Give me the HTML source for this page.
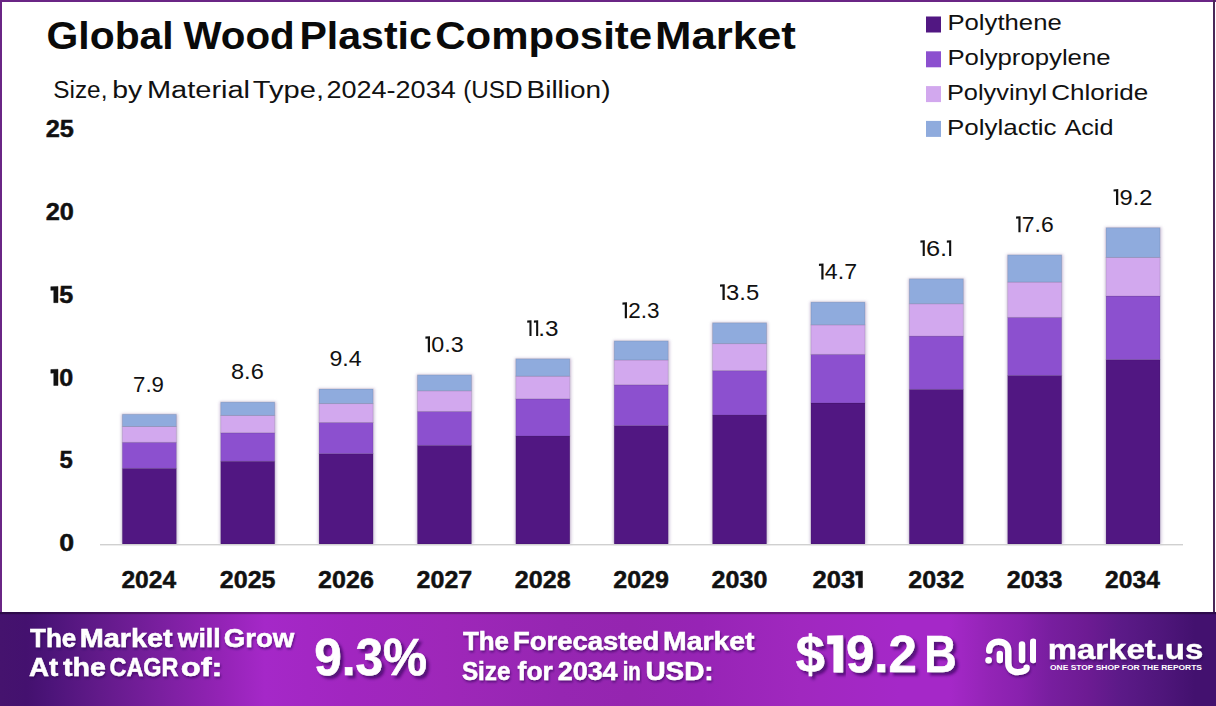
<!DOCTYPE html>
<html><head><meta charset="utf-8"><title>Global Wood Plastic Composite Market</title>
<style>
html,body{margin:0;padding:0;background:#fff;}
body{width:1216px;height:706px;overflow:hidden;position:relative;font-family:"Liberation Sans",sans-serif;}
svg{position:absolute;left:0;top:0;display:block;}
svg text{font-family:"Liberation Sans",sans-serif;}
</style></head><body>
<svg width="1216" height="706" viewBox="0 0 1216 706">
<defs>
<linearGradient id="bg" gradientUnits="userSpaceOnUse" x1="0" y1="0" x2="1216" y2="0">
<stop offset="0.0000" stop-color="#45136e"/>
<stop offset="0.0222" stop-color="#44116f"/>
<stop offset="0.0411" stop-color="#4c1479"/>
<stop offset="0.0822" stop-color="#621a8a"/>
<stop offset="0.1316" stop-color="#7a1f9f"/>
<stop offset="0.1809" stop-color="#9323b5"/>
<stop offset="0.2179" stop-color="#a528c8"/>
<stop offset="0.2878" stop-color="#a126c0"/>
<stop offset="0.3660" stop-color="#9e27b9"/>
<stop offset="0.4605" stop-color="#9626b2"/>
<stop offset="0.5181" stop-color="#9525b0"/>
<stop offset="0.5757" stop-color="#9724b5"/>
<stop offset="0.6579" stop-color="#a028bf"/>
<stop offset="0.7401" stop-color="#a528c8"/>
<stop offset="0.7812" stop-color="#a528c8"/>
<stop offset="0.8141" stop-color="#9324b6"/>
<stop offset="0.8388" stop-color="#8921ae"/>
<stop offset="0.8635" stop-color="#781e9f"/>
<stop offset="0.8939" stop-color="#6d1b93"/>
<stop offset="0.9211" stop-color="#5c1a88"/>
<stop offset="0.9556" stop-color="#4f167b"/>
<stop offset="0.9827" stop-color="#43116f"/>
<stop offset="1.0000" stop-color="#43116f"/>
</linearGradient>
<filter id="bs" x="-20%" y="-5%" width="140%" height="110%"><feGaussianBlur stdDeviation="1.6"/></filter>
<filter id="ts" x="-5%" y="-20%" width="110%" height="150%">
<feGaussianBlur in="SourceAlpha" stdDeviation="1.2"/>
<feOffset dx="1" dy="1.5" result="b"/>
<feFlood flood-color="#2a0650" flood-opacity="0.55"/>
<feComposite in2="b" operator="in"/>
<feMerge><feMergeNode/><feMergeNode in="SourceGraphic"/></feMerge>
</filter>
<filter id="ds" x="-10%" y="-20%" width="130%" height="160%">
<feGaussianBlur in="SourceAlpha" stdDeviation="1.5"/>
<feOffset dx="3" dy="3" result="b"/>
<feFlood flood-color="#3a0a60" flood-opacity="0.75"/>
<feComposite in2="b" operator="in"/>
<feMerge><feMergeNode/><feMergeNode in="SourceGraphic"/></feMerge>
</filter>
</defs>
<rect x="0" y="0" width="1216" height="706" fill="#fff"/>
<rect x="0" y="0" width="1216" height="2" fill="#6a2585"/>
<rect x="0" y="0" width="2" height="612" fill="#6a2585"/>
<rect x="1213" y="0" width="2" height="612" fill="#4a2858"/>
<rect x="121.35" y="413.80" width="56.5" height="130.20" fill="#b09cc4" opacity="0.6" filter="url(#bs)"/>
<rect x="122.35" y="468.38" width="54.0" height="75.62" fill="#511782" stroke="#000" stroke-opacity="0.1" stroke-width="1"/>
<rect x="122.35" y="442.32" width="54.0" height="26.07" fill="#8c50cf" stroke="#000" stroke-opacity="0.1" stroke-width="1"/>
<rect x="122.35" y="426.49" width="54.0" height="15.82" fill="#d2a8ee" stroke="#000" stroke-opacity="0.1" stroke-width="1"/>
<rect x="122.35" y="414.30" width="54.0" height="12.19" fill="#8fabdd" stroke="#000" stroke-opacity="0.1" stroke-width="1"/>
<rect x="219.72" y="401.60" width="56.5" height="142.40" fill="#b09cc4" opacity="0.6" filter="url(#bs)"/>
<rect x="220.72" y="461.27" width="54.0" height="82.73" fill="#511782" stroke="#000" stroke-opacity="0.1" stroke-width="1"/>
<rect x="220.72" y="432.75" width="54.0" height="28.52" fill="#8c50cf" stroke="#000" stroke-opacity="0.1" stroke-width="1"/>
<rect x="220.72" y="415.44" width="54.0" height="17.31" fill="#d2a8ee" stroke="#000" stroke-opacity="0.1" stroke-width="1"/>
<rect x="220.72" y="402.10" width="54.0" height="13.34" fill="#8fabdd" stroke="#000" stroke-opacity="0.1" stroke-width="1"/>
<rect x="318.09" y="388.50" width="56.5" height="155.50" fill="#b09cc4" opacity="0.6" filter="url(#bs)"/>
<rect x="319.09" y="453.63" width="54.0" height="90.36" fill="#511782" stroke="#000" stroke-opacity="0.1" stroke-width="1"/>
<rect x="319.09" y="422.48" width="54.0" height="31.16" fill="#8c50cf" stroke="#000" stroke-opacity="0.1" stroke-width="1"/>
<rect x="319.09" y="403.57" width="54.0" height="18.91" fill="#d2a8ee" stroke="#000" stroke-opacity="0.1" stroke-width="1"/>
<rect x="319.09" y="389.00" width="54.0" height="14.57" fill="#8fabdd" stroke="#000" stroke-opacity="0.1" stroke-width="1"/>
<rect x="416.46" y="374.40" width="56.5" height="169.60" fill="#b09cc4" opacity="0.6" filter="url(#bs)"/>
<rect x="417.46" y="445.41" width="54.0" height="98.59" fill="#511782" stroke="#000" stroke-opacity="0.1" stroke-width="1"/>
<rect x="417.46" y="411.43" width="54.0" height="33.99" fill="#8c50cf" stroke="#000" stroke-opacity="0.1" stroke-width="1"/>
<rect x="417.46" y="390.80" width="54.0" height="20.63" fill="#d2a8ee" stroke="#000" stroke-opacity="0.1" stroke-width="1"/>
<rect x="417.46" y="374.90" width="54.0" height="15.90" fill="#8fabdd" stroke="#000" stroke-opacity="0.1" stroke-width="1"/>
<rect x="514.83" y="358.30" width="56.5" height="185.70" fill="#b09cc4" opacity="0.6" filter="url(#bs)"/>
<rect x="515.83" y="436.03" width="54.0" height="107.97" fill="#511782" stroke="#000" stroke-opacity="0.1" stroke-width="1"/>
<rect x="515.83" y="398.80" width="54.0" height="37.23" fill="#8c50cf" stroke="#000" stroke-opacity="0.1" stroke-width="1"/>
<rect x="515.83" y="376.21" width="54.0" height="22.59" fill="#d2a8ee" stroke="#000" stroke-opacity="0.1" stroke-width="1"/>
<rect x="515.83" y="358.80" width="54.0" height="17.41" fill="#8fabdd" stroke="#000" stroke-opacity="0.1" stroke-width="1"/>
<rect x="613.20" y="340.40" width="56.5" height="203.60" fill="#b09cc4" opacity="0.6" filter="url(#bs)"/>
<rect x="614.20" y="425.59" width="54.0" height="118.41" fill="#511782" stroke="#000" stroke-opacity="0.1" stroke-width="1"/>
<rect x="614.20" y="384.77" width="54.0" height="40.82" fill="#8c50cf" stroke="#000" stroke-opacity="0.1" stroke-width="1"/>
<rect x="614.20" y="359.99" width="54.0" height="24.78" fill="#d2a8ee" stroke="#000" stroke-opacity="0.1" stroke-width="1"/>
<rect x="614.20" y="340.90" width="54.0" height="19.09" fill="#8fabdd" stroke="#000" stroke-opacity="0.1" stroke-width="1"/>
<rect x="711.57" y="322.30" width="56.5" height="221.70" fill="#b09cc4" opacity="0.6" filter="url(#bs)"/>
<rect x="712.57" y="415.04" width="54.0" height="128.96" fill="#511782" stroke="#000" stroke-opacity="0.1" stroke-width="1"/>
<rect x="712.57" y="370.58" width="54.0" height="44.46" fill="#8c50cf" stroke="#000" stroke-opacity="0.1" stroke-width="1"/>
<rect x="712.57" y="343.59" width="54.0" height="26.99" fill="#d2a8ee" stroke="#000" stroke-opacity="0.1" stroke-width="1"/>
<rect x="712.57" y="322.80" width="54.0" height="20.79" fill="#8fabdd" stroke="#000" stroke-opacity="0.1" stroke-width="1"/>
<rect x="809.94" y="301.60" width="56.5" height="242.40" fill="#b09cc4" opacity="0.6" filter="url(#bs)"/>
<rect x="810.94" y="402.97" width="54.0" height="141.03" fill="#511782" stroke="#000" stroke-opacity="0.1" stroke-width="1"/>
<rect x="810.94" y="354.35" width="54.0" height="48.62" fill="#8c50cf" stroke="#000" stroke-opacity="0.1" stroke-width="1"/>
<rect x="810.94" y="324.84" width="54.0" height="29.51" fill="#d2a8ee" stroke="#000" stroke-opacity="0.1" stroke-width="1"/>
<rect x="810.94" y="302.10" width="54.0" height="22.74" fill="#8fabdd" stroke="#000" stroke-opacity="0.1" stroke-width="1"/>
<rect x="908.31" y="278.30" width="56.5" height="265.70" fill="#b09cc4" opacity="0.6" filter="url(#bs)"/>
<rect x="909.31" y="389.39" width="54.0" height="154.61" fill="#511782" stroke="#000" stroke-opacity="0.1" stroke-width="1"/>
<rect x="909.31" y="336.08" width="54.0" height="53.31" fill="#8c50cf" stroke="#000" stroke-opacity="0.1" stroke-width="1"/>
<rect x="909.31" y="303.73" width="54.0" height="32.35" fill="#d2a8ee" stroke="#000" stroke-opacity="0.1" stroke-width="1"/>
<rect x="909.31" y="278.80" width="54.0" height="24.93" fill="#8fabdd" stroke="#000" stroke-opacity="0.1" stroke-width="1"/>
<rect x="1006.68" y="254.40" width="56.5" height="289.60" fill="#b09cc4" opacity="0.6" filter="url(#bs)"/>
<rect x="1007.68" y="375.45" width="54.0" height="168.55" fill="#511782" stroke="#000" stroke-opacity="0.1" stroke-width="1"/>
<rect x="1007.68" y="317.35" width="54.0" height="58.11" fill="#8c50cf" stroke="#000" stroke-opacity="0.1" stroke-width="1"/>
<rect x="1007.68" y="282.08" width="54.0" height="35.27" fill="#d2a8ee" stroke="#000" stroke-opacity="0.1" stroke-width="1"/>
<rect x="1007.68" y="254.90" width="54.0" height="27.18" fill="#8fabdd" stroke="#000" stroke-opacity="0.1" stroke-width="1"/>
<rect x="1105.05" y="227.20" width="56.5" height="316.80" fill="#b09cc4" opacity="0.6" filter="url(#bs)"/>
<rect x="1106.05" y="359.60" width="54.0" height="184.40" fill="#511782" stroke="#000" stroke-opacity="0.1" stroke-width="1"/>
<rect x="1106.05" y="296.02" width="54.0" height="63.58" fill="#8c50cf" stroke="#000" stroke-opacity="0.1" stroke-width="1"/>
<rect x="1106.05" y="257.43" width="54.0" height="38.59" fill="#d2a8ee" stroke="#000" stroke-opacity="0.1" stroke-width="1"/>
<rect x="1106.05" y="227.70" width="54.0" height="29.73" fill="#8fabdd" stroke="#000" stroke-opacity="0.1" stroke-width="1"/>
<rect x="100" y="544.0" width="1083" height="1.4" fill="#d0d0d0"/>
<rect x="926" y="16.50" width="15" height="16" fill="#511782"/>
<rect x="926" y="51.30" width="15" height="16" fill="#8c50cf"/>
<rect x="926" y="86.10" width="15" height="16" fill="#d2a8ee"/>
<rect x="926" y="120.90" width="15" height="16" fill="#8fabdd"/>
<text x="133.10" y="391.60" font-size="22.5" font-weight="normal" textLength="30.87" lengthAdjust="spacingAndGlyphs" fill="#111" >7.9</text>
<text x="121.41" y="587.70" font-size="23.5" font-weight="bold" textLength="54.72" lengthAdjust="spacingAndGlyphs" fill="#111" stroke="#111" stroke-width="0.45">2024</text>
<text x="230.99" y="379.40" font-size="22.5" font-weight="normal" textLength="32.79" lengthAdjust="spacingAndGlyphs" fill="#111" >8.6</text>
<text x="219.76" y="587.70" font-size="23.5" font-weight="bold" textLength="55.77" lengthAdjust="spacingAndGlyphs" fill="#111" stroke="#111" stroke-width="0.45">2025</text>
<text x="329.52" y="366.30" font-size="22.5" font-weight="normal" textLength="32.14" lengthAdjust="spacingAndGlyphs" fill="#111" >9.4</text>
<text x="318.13" y="587.70" font-size="23.5" font-weight="bold" textLength="55.77" lengthAdjust="spacingAndGlyphs" fill="#111" stroke="#111" stroke-width="0.45">2026</text>
<text x="431.33" y="352.20" font-size="22.5" font-weight="normal" textLength="32.36" lengthAdjust="spacingAndGlyphs" fill="#111" >0.3</text>
<text x="416.50" y="587.70" font-size="23.5" font-weight="bold" textLength="55.77" lengthAdjust="spacingAndGlyphs" fill="#111" stroke="#111" stroke-width="0.45">2027</text>
<text x="538.20" y="336.10" font-size="22.5" font-weight="normal" textLength="20.23" lengthAdjust="spacingAndGlyphs" fill="#111" >.3</text>
<text x="514.87" y="587.70" font-size="23.5" font-weight="bold" textLength="55.77" lengthAdjust="spacingAndGlyphs" fill="#111" stroke="#111" stroke-width="0.45">2028</text>
<text x="628.31" y="318.20" font-size="22.5" font-weight="normal" textLength="31.25" lengthAdjust="spacingAndGlyphs" fill="#111" >2.3</text>
<text x="613.24" y="587.70" font-size="23.5" font-weight="bold" textLength="55.77" lengthAdjust="spacingAndGlyphs" fill="#111" stroke="#111" stroke-width="0.45">2029</text>
<text x="726.08" y="300.10" font-size="22.5" font-weight="normal" textLength="33.07" lengthAdjust="spacingAndGlyphs" fill="#111" >3.5</text>
<text x="711.61" y="587.70" font-size="23.5" font-weight="bold" textLength="55.77" lengthAdjust="spacingAndGlyphs" fill="#111" stroke="#111" stroke-width="0.45">2030</text>
<text x="824.85" y="279.40" font-size="22.5" font-weight="normal" textLength="32.18" lengthAdjust="spacingAndGlyphs" fill="#111" >4.7</text>
<text x="812.45" y="587.70" font-size="23.5" font-weight="bold" textLength="42.69" lengthAdjust="spacingAndGlyphs" fill="#111" stroke="#111" stroke-width="0.45">203</text>
<text x="925.97" y="256.10" font-size="22.5" font-weight="normal" textLength="21.20" lengthAdjust="spacingAndGlyphs" fill="#111" >6.</text>
<text x="908.35" y="587.70" font-size="23.5" font-weight="bold" textLength="55.77" lengthAdjust="spacingAndGlyphs" fill="#111" stroke="#111" stroke-width="0.45">2032</text>
<text x="1021.87" y="232.20" font-size="22.5" font-weight="normal" textLength="31.84" lengthAdjust="spacingAndGlyphs" fill="#111" >7.6</text>
<text x="1006.72" y="587.70" font-size="23.5" font-weight="bold" textLength="55.77" lengthAdjust="spacingAndGlyphs" fill="#111" stroke="#111" stroke-width="0.45">2033</text>
<text x="1119.60" y="205.00" font-size="22.5" font-weight="normal" textLength="32.90" lengthAdjust="spacingAndGlyphs" fill="#111" >9.2</text>
<text x="1105.11" y="587.70" font-size="23.5" font-weight="bold" textLength="54.72" lengthAdjust="spacingAndGlyphs" fill="#111" stroke="#111" stroke-width="0.45">2034</text>
<text x="59.38" y="551.20" font-size="23" font-weight="bold" textLength="14.88" lengthAdjust="spacingAndGlyphs" fill="#111" stroke="#111" stroke-width="0.45">0</text>
<text x="59.60" y="468.35" font-size="23" font-weight="bold" textLength="13.31" lengthAdjust="spacingAndGlyphs" fill="#111" stroke="#111" stroke-width="0.45">5</text>
<text x="59.27" y="385.50" font-size="23" font-weight="bold" textLength="13.98" lengthAdjust="spacingAndGlyphs" fill="#111" stroke="#111" stroke-width="0.45">0</text>
<text x="59.27" y="302.65" font-size="23" font-weight="bold" textLength="13.98" lengthAdjust="spacingAndGlyphs" fill="#111" stroke="#111" stroke-width="0.45">5</text>
<text x="45.72" y="219.80" font-size="23" font-weight="bold" textLength="28.18" lengthAdjust="spacingAndGlyphs" fill="#111" stroke="#111" stroke-width="0.45">20</text>
<text x="45.72" y="136.95" font-size="23" font-weight="bold" textLength="28.18" lengthAdjust="spacingAndGlyphs" fill="#111" stroke="#111" stroke-width="0.45">25</text>
<text x="46.52" y="48.80" font-size="39" font-weight="bold" textLength="127.18" lengthAdjust="spacingAndGlyphs" fill="#0a0a0a" >Global</text>
<text x="183.40" y="48.80" font-size="39" font-weight="bold" textLength="111.27" lengthAdjust="spacingAndGlyphs" fill="#0a0a0a" >Wood</text>
<text x="299.49" y="48.80" font-size="39" font-weight="bold" textLength="132.38" lengthAdjust="spacingAndGlyphs" fill="#0a0a0a" >Plastic</text>
<text x="435.27" y="48.80" font-size="39" font-weight="bold" textLength="216.86" lengthAdjust="spacingAndGlyphs" fill="#0a0a0a" >Composite</text>
<text x="655.01" y="48.80" font-size="39" font-weight="bold" textLength="140.90" lengthAdjust="spacingAndGlyphs" fill="#0a0a0a" >Market</text>
<text x="53.24" y="97.80" font-size="23.5" font-weight="normal" textLength="54.19" lengthAdjust="spacingAndGlyphs" fill="#111" >Size,</text>
<text x="112.21" y="97.80" font-size="23.5" font-weight="normal" textLength="30.03" lengthAdjust="spacingAndGlyphs" fill="#111" >by</text>
<text x="146.92" y="97.80" font-size="23.5" font-weight="normal" textLength="103.16" lengthAdjust="spacingAndGlyphs" fill="#111" >Material</text>
<text x="252.85" y="97.80" font-size="23.5" font-weight="normal" textLength="71.13" lengthAdjust="spacingAndGlyphs" fill="#111" >Type,</text>
<text x="326.48" y="97.80" font-size="23.5" font-weight="normal" textLength="129.25" lengthAdjust="spacingAndGlyphs" fill="#111" >2024-2034</text>
<text x="463.26" y="97.80" font-size="23.5" font-weight="normal" textLength="59.29" lengthAdjust="spacingAndGlyphs" fill="#111" >(USD</text>
<text x="526.50" y="97.80" font-size="23.5" font-weight="normal" textLength="84.00" lengthAdjust="spacingAndGlyphs" fill="#111" >Billion)</text>
<text x="947.44" y="30.30" font-size="21.5" font-weight="normal" textLength="114.28" lengthAdjust="spacingAndGlyphs" fill="#111" >Polythene</text>
<text x="947.46" y="65.10" font-size="21.5" font-weight="normal" textLength="163.09" lengthAdjust="spacingAndGlyphs" fill="#111" >Polypropylene</text>
<text x="946.91" y="99.90" font-size="21.5" font-weight="normal" textLength="100.17" lengthAdjust="spacingAndGlyphs" fill="#111" >Polyvinyl</text>
<text x="1051.18" y="99.90" font-size="21.5" font-weight="normal" textLength="97.04" lengthAdjust="spacingAndGlyphs" fill="#111" >Chloride</text>
<text x="946.95" y="134.70" font-size="21.5" font-weight="normal" textLength="109.67" lengthAdjust="spacingAndGlyphs" fill="#111" >Polylactic</text>
<text x="1064.50" y="134.70" font-size="21.5" font-weight="normal" textLength="48.85" lengthAdjust="spacingAndGlyphs" fill="#111" >Acid</text>
<path d="M425.41 336.62 L430.00 336.31 L430.00 352.20 L427.79 352.20 L427.79 338.53 L425.41 338.73 Z" fill="#111" />
<path d="M527.23 320.52 L531.51 320.22 L531.51 336.10 L529.45 336.10 L529.45 322.43 L527.23 322.63 Z" fill="#111" />
<path d="M533.92 320.52 L538.19 320.22 L538.19 336.10 L536.14 336.10 L536.14 322.43 L533.92 322.63 Z" fill="#111" />
<path d="M622.45 302.62 L626.96 302.31 L626.96 318.20 L624.79 318.20 L624.79 304.53 L622.45 304.73 Z" fill="#111" />
<path d="M720.02 284.52 L724.74 284.22 L724.74 300.10 L722.47 300.10 L722.47 286.43 L720.02 286.63 Z" fill="#111" />
<path d="M818.94 263.82 L823.52 263.52 L823.52 279.40 L821.32 279.40 L821.32 265.73 L818.94 265.93 Z" fill="#111" />
<path d="M855.60 571.41 L862.50 571.11 L862.50 587.70 L858.43 587.70 L858.43 574.93 L855.60 575.13 Z" fill="#111" stroke="#111" stroke-width="0.45"/>
<path d="M920.41 240.52 L924.79 240.22 L924.79 256.10 L922.68 256.10 L922.68 242.43 L920.41 242.63 Z" fill="#111" />
<path d="M946.83 240.52 L951.21 240.22 L951.21 256.10 L949.10 256.10 L949.10 242.43 L946.83 242.63 Z" fill="#111" />
<path d="M1016.08 216.62 L1020.55 216.32 L1020.55 232.20 L1018.40 232.20 L1018.40 218.53 L1016.08 218.73 Z" fill="#111" />
<path d="M1113.55 189.42 L1118.26 189.12 L1118.26 205.00 L1115.99 205.00 L1115.99 191.33 L1113.55 191.53 Z" fill="#111" />
<path d="M50.80 369.56 L58.00 369.26 L58.00 385.50 L53.75 385.50 L53.75 373.01 L50.80 373.21 Z" fill="#111" stroke="#111" stroke-width="0.45"/>
<path d="M50.80 286.71 L58.00 286.41 L58.00 302.65 L53.75 302.65 L53.75 290.16 L50.80 290.36 Z" fill="#111" stroke="#111" stroke-width="0.45"/>
<rect x="0" y="612" width="1216" height="94" fill="url(#bg)"/>
<rect x="0" y="612" width="1216" height="2.2" fill="#000" opacity="0.32"/>
<text x="30.00" y="646.90" font-size="25" font-weight="bold" textLength="46.23" lengthAdjust="spacingAndGlyphs" fill="#fff" filter="url(#ts)" stroke="#fff" stroke-width="0.5">The</text>
<text x="79.85" y="646.90" font-size="25" font-weight="bold" textLength="92.86" lengthAdjust="spacingAndGlyphs" fill="#fff" filter="url(#ts)" stroke="#fff" stroke-width="0.5">Market</text>
<text x="177.80" y="646.90" font-size="25" font-weight="bold" textLength="42.82" lengthAdjust="spacingAndGlyphs" fill="#fff" filter="url(#ts)" stroke="#fff" stroke-width="0.5">will</text>
<text x="223.78" y="646.90" font-size="25" font-weight="bold" textLength="70.56" lengthAdjust="spacingAndGlyphs" fill="#fff" filter="url(#ts)" stroke="#fff" stroke-width="0.5">Grow</text>
<text x="28.96" y="676.30" font-size="25" font-weight="bold" textLength="29.24" lengthAdjust="spacingAndGlyphs" fill="#fff" filter="url(#ts)" stroke="#fff" stroke-width="0.5">At</text>
<text x="63.10" y="676.30" font-size="25" font-weight="bold" textLength="42.85" lengthAdjust="spacingAndGlyphs" fill="#fff" filter="url(#ts)" stroke="#fff" stroke-width="0.5">the</text>
<text x="109.58" y="676.30" font-size="25" font-weight="bold" textLength="68.84" lengthAdjust="spacingAndGlyphs" fill="#fff" filter="url(#ts)" stroke="#fff" stroke-width="0.5">CAGR</text>
<text x="180.69" y="676.30" font-size="25" font-weight="bold" textLength="41.80" lengthAdjust="spacingAndGlyphs" fill="#fff" filter="url(#ts)" stroke="#fff" stroke-width="0.5">of:</text>
<text x="314.34" y="674.60" font-size="51" font-weight="bold" textLength="112.71" lengthAdjust="spacingAndGlyphs" fill="#fff" filter="url(#ds)" stroke="#fff" stroke-width="0.6">9.3%</text>
<text x="463.00" y="649.50" font-size="25" font-weight="bold" textLength="46.01" lengthAdjust="spacingAndGlyphs" fill="#fff" filter="url(#ts)" stroke="#fff" stroke-width="0.5">The</text>
<text x="513.04" y="649.50" font-size="25" font-weight="bold" textLength="146.33" lengthAdjust="spacingAndGlyphs" fill="#fff" filter="url(#ts)" stroke="#fff" stroke-width="0.5">Forecasted</text>
<text x="663.05" y="649.50" font-size="25" font-weight="bold" textLength="91.45" lengthAdjust="spacingAndGlyphs" fill="#fff" filter="url(#ts)" stroke="#fff" stroke-width="0.5">Market</text>
<text x="461.96" y="679.50" font-size="25" font-weight="bold" textLength="48.46" lengthAdjust="spacingAndGlyphs" fill="#fff" filter="url(#ts)" stroke="#fff" stroke-width="0.5">Size</text>
<text x="517.60" y="679.50" font-size="25" font-weight="bold" textLength="35.21" lengthAdjust="spacingAndGlyphs" fill="#fff" filter="url(#ts)" stroke="#fff" stroke-width="0.5">for</text>
<text x="557.78" y="679.50" font-size="25" font-weight="bold" textLength="59.82" lengthAdjust="spacingAndGlyphs" fill="#fff" filter="url(#ts)" stroke="#fff" stroke-width="0.5">2034</text>
<text x="622.66" y="679.50" font-size="25" font-weight="bold" textLength="18.05" lengthAdjust="spacingAndGlyphs" fill="#fff" filter="url(#ts)" stroke="#fff" stroke-width="0.5">in</text>
<text x="645.43" y="679.50" font-size="25" font-weight="bold" textLength="68.22" lengthAdjust="spacingAndGlyphs" fill="#fff" filter="url(#ts)" stroke="#fff" stroke-width="0.5">USD:</text>
<text x="795.84" y="672.30" font-size="52" font-weight="bold" textLength="29.10" lengthAdjust="spacingAndGlyphs" fill="#fff" filter="url(#ds)" stroke="#fff" stroke-width="0.6">$</text>
<text x="845.98" y="672.30" font-size="52" font-weight="bold" textLength="70.84" lengthAdjust="spacingAndGlyphs" fill="#fff" filter="url(#ds)" stroke="#fff" stroke-width="0.6">9.2</text>
<text x="924.36" y="672.30" font-size="52" font-weight="bold" textLength="32.42" lengthAdjust="spacingAndGlyphs" fill="#fff" filter="url(#ds)" stroke="#fff" stroke-width="0.6">B</text>
<text x="1047.66" y="658.80" font-size="27" font-weight="bold" textLength="155.66" lengthAdjust="spacingAndGlyphs" fill="#fff" filter="url(#ts)" stroke="#fff" stroke-width="0.4">market.us</text>
<text x="1050.00" y="669.50" font-size="7" font-weight="bold" textLength="152.00" lengthAdjust="spacingAndGlyphs" fill="#fff" >ONE STOP SHOP FOR THE REPORTS</text>
<path d="M827.50 635.89 L842.80 635.59 L842.80 672.30 L833.77 672.30 L833.77 643.69 L827.50 643.89 Z" fill="#fff" filter="url(#ds)" stroke="#fff" stroke-width="0.6"/>
<g filter="url(#ts)">
<g fill="none" stroke="#fff" stroke-width="6.4" stroke-linecap="round" stroke-linejoin="round">
<path d="M989.2 650.5 C989.2 644.5 993.5 641.7 998.7 641.7 C1004 641.7 1008.3 644.5 1008.3 651 L1008.3 663 C1008.3 669 1012.5 672.1 1017.5 672.1 C1022.5 672.1 1026.6 670.5 1026.6 667.6"/>
<path d="M999.8 654 L999.8 660"/>
<path d="M1022 644.5 L1022 660"/>
<path d="M1033.2 641.8 L1033.2 660"/>
</g>
<circle cx="988.6" cy="660.3" r="3.3" fill="#fff"/>
</g>

</svg>
</body></html>
